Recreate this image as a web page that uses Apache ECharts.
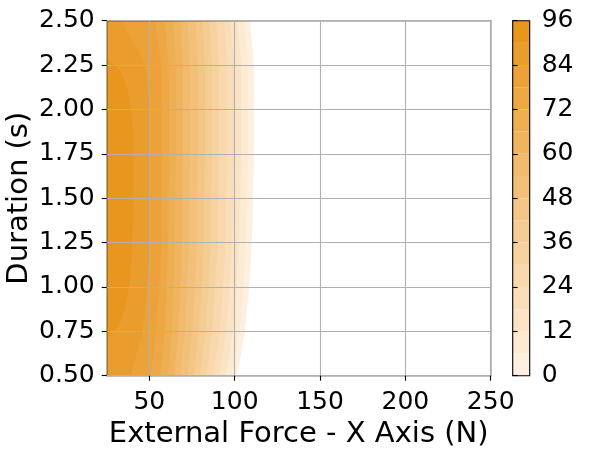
<!DOCTYPE html>
<html>
<head>
<meta charset="utf-8">
<script src="https://cdn.jsdelivr.net/npm/echarts@6/dist/echarts.min.js"></script>
<style>
  html, body { margin: 0; padding: 0; background: #fff; }
  #main { width: 595px; height: 450px; }
</style>
</head>
<body>
<div id="main"></div>
<script>
// duration rows (s) at which the contour edges were read
const durationRows = [0.5, 0.75, 1.0, 1.25, 1.5, 1.75, 2.0, 2.25, 2.5];
// the top band is a closed blob, read on its own rows
const durationRowsTop = [0.71, 0.8, 1.0, 1.25, 1.5, 1.75, 2.0, 2.2, 2.29];

// band bounds of the filled contour (colorbar levels)
const bandBounds = [0, 6, 12, 18, 24, 30, 36, 42, 48, 54, 60, 66, 72, 78, 84, 90, 96];

// external force (N) where each lower bound is crossed, one row per band
const edge0  = [101.3, 106.0, 108.4, 110.1, 110.7, 111.3, 111.3, 111.3, 109.0];
const edge6  = [98.2, 102.7, 105.0, 106.6, 107.2, 107.8, 107.8, 107.8, 105.6];
const edge12 = [94.6, 98.9, 101.1, 102.6, 103.2, 103.7, 103.7, 103.7, 101.6];
const edge18 = [91.0, 95.0, 97.1, 98.6, 99.1, 99.6, 99.6, 99.6, 97.6];
const edge24 = [87.3, 91.2, 93.1, 94.5, 95.0, 95.5, 95.5, 95.5, 93.6];
const edge30 = [83.2, 86.8, 88.6, 89.9, 90.3, 90.8, 90.8, 90.8, 89.0];
const edge36 = [79.6, 82.9, 84.6, 85.8, 86.3, 86.7, 86.7, 86.7, 85.0];
const edge42 = [75.9, 79.0, 80.7, 81.8, 82.2, 82.6, 82.6, 82.6, 81.0];
const edge48 = [72.3, 75.2, 76.7, 77.8, 78.1, 78.5, 78.5, 78.5, 77.0];
const edge54 = [68.1, 70.8, 72.1, 73.1, 73.5, 73.8, 73.8, 73.8, 72.3];
const edge60 = [64.5, 66.9, 68.2, 69.1, 69.4, 69.7, 69.7, 69.7, 68.2];
const edge66 = [60.9, 63.1, 64.2, 65.0, 65.3, 65.6, 65.6, 65.6, 64.0];
const edge72 = [56.5, 59.0, 60.2, 61.0, 61.2, 61.5, 61.5, 61.3, 59.0];
const edge78 = [50.5, 54.0, 55.8, 56.8, 57.1, 57.4, 57.4, 57.0, 53.0];
const edge84 = [39.0, 46.0, 49.0, 50.0, 50.4, 50.4, 50.2, 48.0, 33.0];
const edge90 = [25.0, 33.0, 38.0, 40.0, 40.4, 40.4, 39.5, 34.0, 25.0];

const contourEdges = [edge0, edge6, edge12, edge18, edge24, edge30, edge36, edge42,
  edge48, edge54, edge60, edge66, edge72, edge78, edge84, edge90];

const forceMin = 25;
const forceMax = 250;

const lightColor = '#FDF0DF';
const darkColor = '#E9961F';
const bandColors = contourEdges.map((e, i) => echarts.color.lerp(i / (contourEdges.length - 1), [lightColor, darkColor]));

const font = 'DejaVu Sans';

const myChart = echarts.init(document.getElementById('main'), null, { renderer: 'canvas' });

function renderBand(params, api) {
  const i = api.value(2);
  const edge = contourEdges[i];
  const rows = i === contourEdges.length - 1 ? durationRowsTop : durationRows;
  const last = rows.length - 1;
  const pts = [api.coord([forceMin, rows[0]])];
  for (let r = 0; r < rows.length; r++) {
    pts.push(api.coord([edge[r], rows[r]]));
  }
  pts.push(api.coord([forceMin, rows[last]]));
  return {
    type: 'polygon',
    shape: { points: pts, smooth: i === contourEdges.length - 1 ? 0.3 : 0 },
    style: { fill: bandColors[i] }
  };
}

function renderColorbar(params, api) {
  const i = api.value(2);
  const lo = api.coord([0, bandBounds[i]]);
  const hi = api.coord([1, bandBounds[i + 1]]);
  return {
    type: 'rect',
    shape: { x: lo[0], y: hi[1], width: hi[0] - lo[0], height: lo[1] - hi[1] },
    style: { fill: bandColors[i] }
  };
}

const tickStyle = { show: true, inside: false, length: 5, lineStyle: { color: '#000', width: 1.1 } };
const labelStyle = { color: '#000', fontFamily: font, fontSize: 25 };

const option = {
  backgroundColor: '#fff',
  animation: false,
  grid: [
    { left: 106.7, top: 20.7, width: 384, height: 355, outerBoundsMode: 'none', containLabel: false,
      show: true, borderColor: '#000', borderWidth: 1.1, backgroundColor: 'transparent' },
    { left: 512.7, top: 20.7, width: 17, height: 355, outerBoundsMode: 'none', containLabel: false,
      show: true, borderColor: '#000', borderWidth: 1.1, backgroundColor: 'transparent' }
  ],
  xAxis: [
    {
      type: 'value', gridIndex: 0, min: forceMin, max: forceMax, splitNumber: 5,
      name: 'External Force - X Axis (N)', nameLocation: 'middle', nameGap: 44, nameMoveOverlap: false,
      nameTextStyle: { color: '#000', fontFamily: font, fontSize: 29 },
      axisLine: { show: false },
      axisTick: tickStyle,
      axisLabel: Object.assign({ margin: 14, showMinLabel: false }, labelStyle),
      splitLine: { show: true, lineStyle: { color: '#b0b0b0', width: 1.1 } }
    },
    {
      type: 'value', gridIndex: 1, min: 0, max: 1,
      axisLine: { show: false }, axisTick: { show: false }, axisLabel: { show: false }, splitLine: { show: false }
    }
  ],
  yAxis: [
    {
      type: 'value', gridIndex: 0, min: 0.5, max: 2.5, interval: 0.25,
      name: 'Duration (s)', nameLocation: 'middle', nameGap: 73, nameMoveOverlap: false,
      nameTextStyle: { color: '#000', fontFamily: font, fontSize: 29 },
      axisLine: { show: false },
      axisTick: tickStyle,
      axisLabel: Object.assign({ margin: 12, formatter: v => v.toFixed(2) }, labelStyle),
      splitLine: { show: true, lineStyle: { color: '#b0b0b0', width: 1.1 } }
    },
    {
      type: 'value', gridIndex: 1, position: 'right', min: 0, max: 96, interval: 12,
      axisLine: { show: false },
      axisTick: tickStyle,
      axisLabel: Object.assign({ margin: 12 }, labelStyle),
      splitLine: { show: false }
    }
  ],
  series: [
    {
      type: 'custom', xAxisIndex: 0, yAxisIndex: 0, z: -1,
      renderItem: renderBand,
      encode: { x: 0, y: 1 },
      data: contourEdges.map((e, i) => [forceMin, durationRows[0], i])
    },
    {
      type: 'custom', xAxisIndex: 1, yAxisIndex: 1, z: -1,
      renderItem: renderColorbar,
      encode: { x: 0, y: 1 },
      data: contourEdges.map((e, i) => [0, bandBounds[i], i])
    }
  ]
};

myChart.setOption(option);
</script>
</body>
</html>
